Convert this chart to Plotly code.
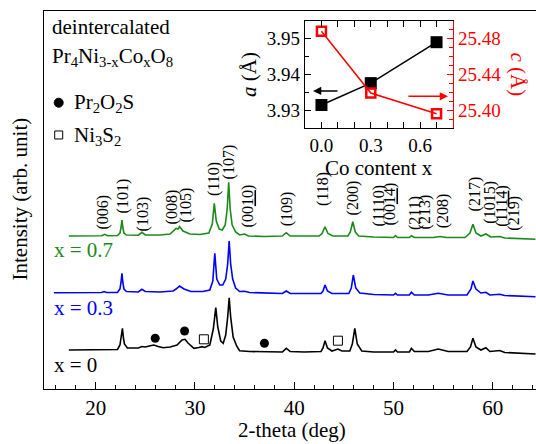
import plotly.graph_objects as go

# ---------------- data ----------------
# XRD patterns (2-theta in deg, intensity in arb. units incl. vertical offset)
tt_x07 = [17.3, 19.0, 20.6, 20.9, 21.2, 22.2, 22.45, 22.55, 22.65, 22.75, 22.85, 23.1, 24.3, 24.66, 25.0,
          26.5, 27.5, 28.1, 28.3, 28.45, 28.8, 29.5, 30.5, 31.4, 31.75, 31.95, 32.15, 32.45, 32.75, 33.05,
          33.25, 33.4, 33.55, 33.75, 34.1, 34.5, 35.0, 35.4, 37.0, 38.8, 39.2, 39.6, 42.5, 42.8, 43.1,
          43.4, 43.9, 45.4, 45.65, 45.9, 46.15, 46.5, 48.0, 50.0, 50.2, 50.4, 51.6, 51.8, 52.1, 54.0,
          54.7, 55.3, 57.2, 57.7, 58.0, 58.3, 58.8, 59.3, 59.8, 60.7, 61.2, 64.3]
I_x07 = [153, 153, 153.3, 154.7, 153.3, 153.5, 156, 161, 169, 161, 156, 154, 153.8, 156.7, 154,
         154, 155, 160.7, 160, 162.3, 158, 155, 154.5, 156, 165, 185.7, 168, 160, 159, 164,
         180, 206.7, 180, 164, 157, 154, 155, 153, 152.5, 153, 156.3, 153, 153, 155.5, 162.3,
         155.5, 153, 153, 157, 167.3, 157, 153, 152, 151.5, 153.3, 151.5, 151.5, 153.3, 151.5, 151.5,
         152.5, 151.5, 151.5, 156, 164.7, 156, 153, 155, 152, 152.5, 151, 149.7]

tt_x03 = [15.8, 19.0, 20.6, 20.85, 21.1, 22.2, 22.45, 22.55, 22.65, 22.75, 22.85, 23.1, 24.3, 24.66, 25.0,
          26.5, 27.8, 28.1, 28.45, 28.9, 29.6, 30.8, 31.5, 31.8, 32.0, 32.2, 32.5, 32.8, 33.1, 33.3,
          33.45, 33.6, 33.8, 34.1, 34.5, 35.0, 35.5, 38.8, 39.2, 39.6, 42.7, 42.9, 43.1, 43.35, 43.8,
          45.5, 45.75, 45.95, 46.2, 46.6, 48.0, 50.0, 50.2, 50.4, 51.6, 51.8, 52.1, 53.5, 54.5, 55.5,
          57.4, 57.8, 58.0, 58.3, 58.8, 59.3, 59.7, 60.7, 61.2, 64.3]
I_x03 = [96.3, 96.5, 96.5, 97.5, 96.5, 96.5, 100, 106, 115.7, 106, 100, 97.5, 97, 99.7, 97.5,
         97, 98, 100, 103, 100, 97.5, 97.5, 99, 108, 135.7, 110, 104, 104, 110, 125,
         148, 125, 110, 101, 97.5, 97.7, 96.5, 95.5, 98, 95.5, 95.5, 98, 104, 98, 95.5,
         95.5, 101, 114, 101, 96, 94.5, 94, 95.7, 94, 94, 96.7, 94, 94, 95.7, 94,
         94, 100, 108, 100, 96, 96.7, 94, 94.7, 93.5, 92.3]

tt_x00 = [17.3, 19.0, 20.9, 22.2, 22.45, 22.55, 22.7, 22.8, 22.9, 23.2, 24.3, 24.66, 25.0, 25.4, 25.85,
          26.3, 26.8, 27.5, 28.2, 28.7, 29.0, 29.3, 29.9, 30.4, 30.7, 31.0, 31.5, 31.85, 32.1, 32.3,
          32.6, 32.85, 33.1, 33.3, 33.45, 33.6, 33.85, 34.2, 34.5, 35.5, 37.0, 38.8, 39.2, 39.6, 41.0,
          42.7, 42.9, 43.1, 43.35, 43.8, 44.4, 44.8, 45.6, 45.85, 46.1, 46.35, 46.8, 48.0, 50.0, 50.2,
          50.4, 51.6, 51.8, 52.1, 53.5, 54.5, 55.5, 57.4, 57.75, 58.0, 58.3, 58.8, 59.3, 59.7, 60.7,
          61.2, 64.3]
I_x00 = [39, 39, 39.5, 39.5, 44, 51, 60.7, 51, 45, 41, 41, 42.5, 42, 43, 44,
         42.5, 41.3, 42, 44, 49, 49.7, 46, 40.7, 41.5, 42.3, 41.5, 44, 60, 81.3, 62,
         48, 45.7, 54, 72, 91.3, 72, 52, 43, 38.3, 37.5, 37.5, 37, 40.7, 37.5, 37,
         37.5, 41, 48.3, 41, 38, 40, 38, 38, 45, 60.7, 45, 38, 37, 37, 39,
         37, 37, 40.7, 37.5, 37.5, 40, 37.5, 37.5, 42, 50.7, 42, 39, 41.3, 37.5, 38.5,
         36.5, 35]

# impurity peaks marked on x = 0 pattern
pr2o2s_tt = [26.0, 28.96, 37.0]
pr2o2s_I = [50.7, 58.0, 45.7]
ni3s2_tt = [30.9, 44.4]
ni3s2_I = [49.7, 48.3]

# Miller index labels (position, label base height)
hkl_labels = ["(006)", "(101)", "(103)", "(008)", "(105)", "(110)", "(107)", "(00<u>10</u>)", "(109)",
              "(118)", "(200)", "(1110)", "(00<u>14</u>)", "(211)", "(213)", "(208)", "(217)",
              "(1015)", "(11<u>14</u>)", "(219)"]
hkl_tt = [20.74, 22.75, 24.76, 27.68, 29.09, 31.91, 33.42, 35.34, 39.26,
          42.89, 45.91, 48.53, 49.64, 52.16, 53.16, 54.97, 58.2,
          59.63, 60.85, 62.05]
hkl_base = [159, 175, 157, 164, 166, 192, 209, 161, 162,
            182, 173, 162, 163, 158, 159, 160, 177,
            164, 161, 157]

# inset: lattice parameters vs Co content
co_content = [0.0, 0.3, 0.7]
a_param = [3.9314, 3.9375, 3.9489]
c_param = [25.488, 25.419, 25.396]

FONT = "Liberation Serif"
GREEN = "#1a8a1a"
BLUE = "#0000ff"
RED = "#ff0000"

fig = go.Figure()
fig.add_trace(go.Scatter(x=tt_x07, y=I_x07, mode="lines", line=dict(color=GREEN, width=1.6)))
fig.add_trace(go.Scatter(x=tt_x03, y=I_x03, mode="lines", line=dict(color=BLUE, width=1.6)))
fig.add_trace(go.Scatter(x=tt_x00, y=I_x00, mode="lines", line=dict(color="black", width=1.6)))
fig.add_trace(go.Scatter(x=pr2o2s_tt, y=pr2o2s_I, mode="markers",
                         marker=dict(symbol="circle", size=9, color="black")))
fig.add_trace(go.Scatter(x=ni3s2_tt, y=ni3s2_I, mode="markers",
                         marker=dict(symbol="square-open", size=9, color="black", line=dict(width=1))))

# inset traces
fig.add_trace(go.Scatter(x=co_content, y=a_param, xaxis="x2", yaxis="y2", mode="lines+markers",
                         line=dict(color="black", width=1.5),
                         marker=dict(symbol="square", size=12, color="black")))
fig.add_trace(go.Scatter(x=co_content, y=c_param, xaxis="x2", yaxis="y3", mode="lines+markers",
                         line=dict(color=RED, width=1.5),
                         marker=dict(symbol="square-open", size=9, color=RED, line=dict(width=2.5))))

ann = []
for lab, t, b in zip(hkl_labels, hkl_tt, hkl_base):
    ann.append(dict(x=t, y=b, xref="x", yref="y", text=lab, showarrow=False, textangle=-90,
                    xanchor="center", yanchor="bottom", font=dict(family=FONT, size=16, color="black"),
                    borderpad=0))

def ptext(text, x, y, size=21, color="black", xanchor="left", yanchor="middle", angle=0):
    ann.append(dict(x=x, y=y, xref="paper", yref="paper", text=text, showarrow=False,
                    xanchor=xanchor, yanchor=yanchor, textangle=angle,
                    font=dict(family=FONT, size=size, color=color)))

ptext("deintercalated", 0.0122, 0.9577)
ptext("Pr<sub>4</sub>Ni<sub>3-x</sub>Co<sub>x</sub>O<sub>8</sub>", 0.0122, 0.878)
ptext("Pr<sub>2</sub>O<sub>2</sub>S", 0.0569, 0.757)
ptext("Ni<sub>3</sub>S<sub>2</sub>", 0.0569, 0.668)
ptext("x = 0.7", 0.0156, 0.3677, color=GREEN)
ptext("x = 0.3", 0.0156, 0.2143, color=BLUE)
ptext("x = 0", 0.0156, 0.0635)
ptext("Intensity (arb. unit)", -0.0488, 0.504, xanchor="center", angle=-90)
ptext("2-theta (deg)", 0.504, -0.1085, xanchor="center")
# inset axis titles
ptext("Co content x", 0.6809, 0.585, xanchor="center")
ptext("<i>c</i> (Å)", 0.9654, 0.832, color=RED, xanchor="center", angle=90)

# inset arrows (pointing to the axis each curve belongs to)
ann.append(dict(x=0.5467, y=0.7884, xref="paper", yref="paper", ax=26, ay=0,
                showarrow=True, arrowhead=2, arrowsize=1.1, arrowwidth=1.5, arrowcolor="black", text=""))
ann.append(dict(x=0.8211, y=0.7743, xref="paper", yref="paper", ax=-41, ay=0,
                showarrow=True, arrowhead=2, arrowsize=1.1, arrowwidth=1.5, arrowcolor=RED, text=""))

shapes = [
    dict(type="circle", xref="paper", yref="paper", xsizemode="pixel", ysizemode="pixel",
         xanchor=0.0299, yanchor=0.7574, x0=-4.5, x1=4.5, y0=-4.5, y1=4.5,
         fillcolor="black", line=dict(color="black", width=1)),
    dict(type="rect", xref="paper", yref="paper", xsizemode="pixel", ysizemode="pixel",
         xanchor=0.0299, yanchor=0.6720, x0=-4, x1=4, y0=-4, y1=4,
         fillcolor="rgba(0,0,0,0)", line=dict(color="black", width=1)),
]

tickfont = dict(family=FONT, size=21, color="black")
insetfont = dict(family=FONT, size=19, color="black")

fig.update_layout(
    width=536, height=444,
    margin=dict(l=44, r=0, t=11, b=55),
    paper_bgcolor="white", plot_bgcolor="white",
    showlegend=False,
    annotations=ann, shapes=shapes,
    xaxis=dict(range=[14.8, 64.35], showgrid=False, zeroline=False, showline=True, linecolor="black",
               linewidth=1.3, mirror=True, ticks="inside", ticklen=7, tickwidth=1.2, tickcolor="black",
               tick0=0, dtick=10, tickfont=tickfont,
               minor=dict(ticks="inside", dtick=2, ticklen=3.5, tickwidth=1, tickcolor="black")),
    yaxis=dict(range=[0, 378], showgrid=False, zeroline=False, showline=True, linecolor="black",
               linewidth=1.3, mirror=True, ticks="", showticklabels=False),
    xaxis2=dict(domain=[0.5305, 0.8313], anchor="y2", range=[-0.1, 0.8], showgrid=False, zeroline=False,
                showline=True, linecolor="black", linewidth=1.3, mirror="allticks", ticks="inside",
                ticklen=6, tickwidth=1.2, tickcolor="black", tick0=0, dtick=0.3, tickformat=".1f",
                tickfont=insetfont,
                minor=dict(ticks="inside", dtick=0.1, ticklen=3.5, tickwidth=1, tickcolor="black")),
    yaxis2=dict(domain=[0.6905, 0.9735], anchor="x2", range=[3.925, 3.9548], showgrid=False,
                zeroline=False, showline=True, linecolor="black", linewidth=1.3, ticks="inside",
                ticklen=6, tickwidth=1.2, tickcolor="black", tick0=3.93, dtick=0.01, tickformat=".2f",
                tickfont=insetfont,
                title=dict(text="<i>a</i> (Å)", font=dict(family=FONT, size=21, color="black"), standoff=4),
                minor=dict(ticks="inside", dtick=0.005, ticklen=3.5, tickwidth=1, tickcolor="black")),
    yaxis3=dict(overlaying="y2", anchor="x2", side="right", range=[25.38, 25.4995], showgrid=False,
                zeroline=False, showline=True, linecolor=RED, linewidth=1.3, ticks="inside",
                ticklen=6, tickwidth=1.2, tickcolor=RED, tick0=25.40, dtick=0.04, tickformat=".2f",
                tickfont=dict(family=FONT, size=19, color=RED),
                minor=dict(ticks="inside", dtick=0.01, ticklen=3.5, tickwidth=1, tickcolor=RED)),
)

fig.write_html("out.html")
